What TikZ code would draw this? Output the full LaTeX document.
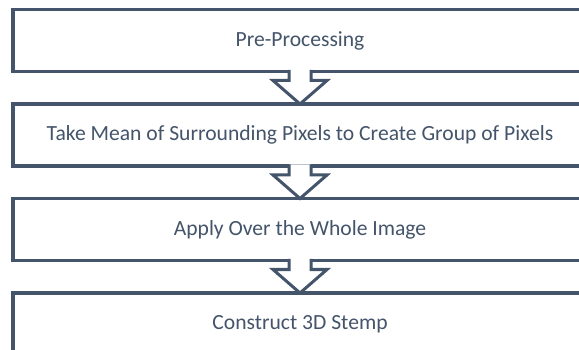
\documentclass[tikz,border=0pt]{standalone}
\usepackage{fontspec}
\setmainfont{Carlito}
\definecolor{ln}{HTML}{44546A}
\begin{document}
\begin{tikzpicture}[x=1pt,y=1pt,
  box/.style={draw=ln, line width=3.2pt, fill=white, minimum width=574pt, minimum height=62pt,
    inner sep=0pt, outer sep=0pt, text=ln, font=\fontsize{21.6}{24}\selectfont},
  arr/.style={draw=ln, line width=3pt, line join=miter, fill=white}]
\useasboundingbox (0,0) rectangle (579,-350);
\clip (0,0) rectangle (579,-350);
\node[box] (a) at (300,-40.5) {Pre-Processing};
\node[box] (b) at (300,-135) {Take Mean of Surrounding Pixels to Create Group of Pixels};
\node[box] (c) at (300,-229.5) {Apply Over the Whole Image};
\node[box] (d) at (300,-324) {Construct 3D Stemp};
\foreach \u/\v in {a/b,b/c,c/d}{
  \path[arr] ([xshift=-11pt,yshift=1.6pt]\u.south) -- ++(0,-10.6) -- ++(-16,0) -- (\v.north)
    -- ([xshift=27pt,yshift=-9pt]\u.south) -- ++(-16,0) -- ([xshift=11pt,yshift=1.6pt]\u.south);
}
\end{tikzpicture}
\end{document}
